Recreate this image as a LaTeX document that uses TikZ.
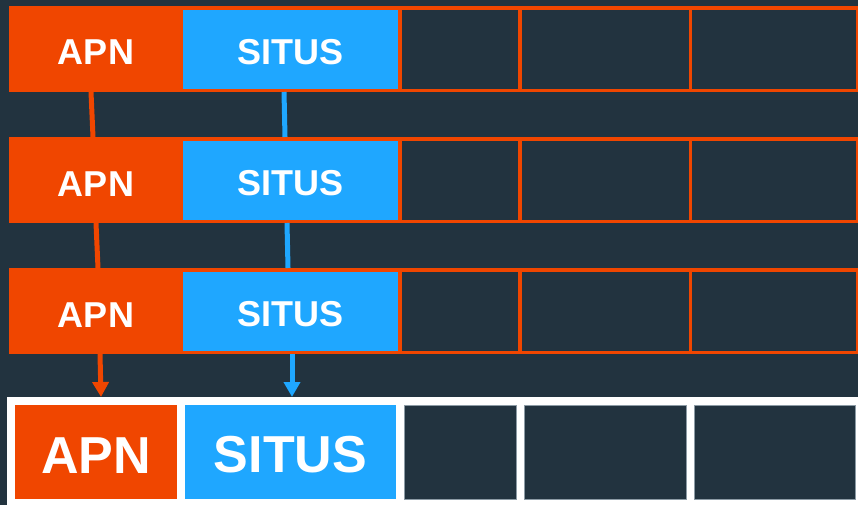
\documentclass[tikz,border=0pt]{standalone}
\usepackage{fontspec}
\setmainfont{Liberation Sans}
\usetikzlibrary{arrows.meta}
\definecolor{bg}{RGB}{34,51,63}
\definecolor{org}{RGB}{240,70,0}
\definecolor{sky}{RGB}{31,167,255}
\definecolor{edge}{RGB}{140,155,165}
\begin{document}
\begin{tikzpicture}[x=1pt,y=-1pt,
  box/.style={rectangle, inner sep=0pt, outer sep=0pt, anchor=center},
  rowframe/.style={box, fill=org, minimum width=849pt, minimum height=86pt},
  smalltxt/.style={text=white, font=\bfseries\fontsize{36}{36}\selectfont, text height=31pt},
  bigtxt/.style={text=white, font=\bfseries\fontsize{52}{52}\selectfont, text height=42pt},
  apncell/.style={box, fill=org, smalltxt, minimum width=174pt, minimum height=79pt},
  sitcell/.style={box, fill=sky, smalltxt, minimum width=215pt, minimum height=79pt},
  darkcell/.style={box, fill=bg, minimum height=79pt},
  bapncell/.style={box, fill=org, bigtxt, minimum width=162pt, minimum height=94pt},
  bsitcell/.style={box, fill=sky, bigtxt, minimum width=211pt, minimum height=94pt},
  bdarkcell/.style={box, fill=bg, draw=edge, line width=0.5pt, minimum height=94pt},
  olink/.style={draw=org, line width=5pt},
  blink/.style={draw=sky, line width=5pt},
  tipo/.style={-{Triangle[width=16pt,length=15pt]}}
]
\useasboundingbox (0,0) rectangle (858,505);
\fill[bg] (0,0) rectangle (858,505);

\foreach \r/\dy in {1/0,2/131,3/262}{
  \node[rowframe] (frame\r) at (433.5,49+\dy) {};
  \node[apncell] (apn\r) at (96,49.5+\dy) {APN};
  \node[sitcell] (sit\r) at (290.5,49.5+\dy) {SITUS};
  \node[darkcell, minimum width=116pt] (da\r) at (460,49.5+\dy) {};
  \node[darkcell, minimum width=167pt] (db\r) at (605.5,49.5+\dy) {};
  \node[darkcell, minimum width=164pt] (dc\r) at (774,49.5+\dy) {};
}

% bottom row
\node[box, fill=white, minimum width=851pt, minimum height=108pt] (bframe) at (432.5,451) {};
\node[bapncell] (bapn) at (96,452) {APN};
\node[bsitcell] (bsit) at (290.5,452) {SITUS};
\node[bdarkcell, minimum width=112pt] (bda) at (460,452) {};
\node[bdarkcell, minimum width=162pt] (bdb) at (605,452) {};
\node[bdarkcell, minimum width=161pt] (bdc) at (774.5,452) {};

% connectors
\draw[olink] ([xshift=-5pt]frame1.south -| apn1.south) -- ([xshift=-3pt]frame2.north -| apn2.north);
\draw[olink] ([xshift=0pt]frame2.south -| apn2.south) -- ([xshift=2pt]frame3.north -| apn3.north);
\draw[olink, tipo] ([xshift=4pt]frame3.south -| apn3.south) -- ([xshift=5pt]bframe.north -| bapn.north);

\draw[blink] ([xshift=-6.5pt]frame1.south -| sit1.south) -- ([xshift=-5.5pt]frame2.north -| sit2.north);
\draw[blink] ([xshift=-3.5pt]frame2.south -| sit2.south) -- ([xshift=-2.5pt]frame3.north -| sit3.north);
\draw[blink, -{Triangle[width=16pt,length=15pt]}] ([xshift=1.5pt]frame3.south -| sit3.south) -- ([xshift=1.5pt]bframe.north -| bsit.north);
\end{tikzpicture}
\end{document}
